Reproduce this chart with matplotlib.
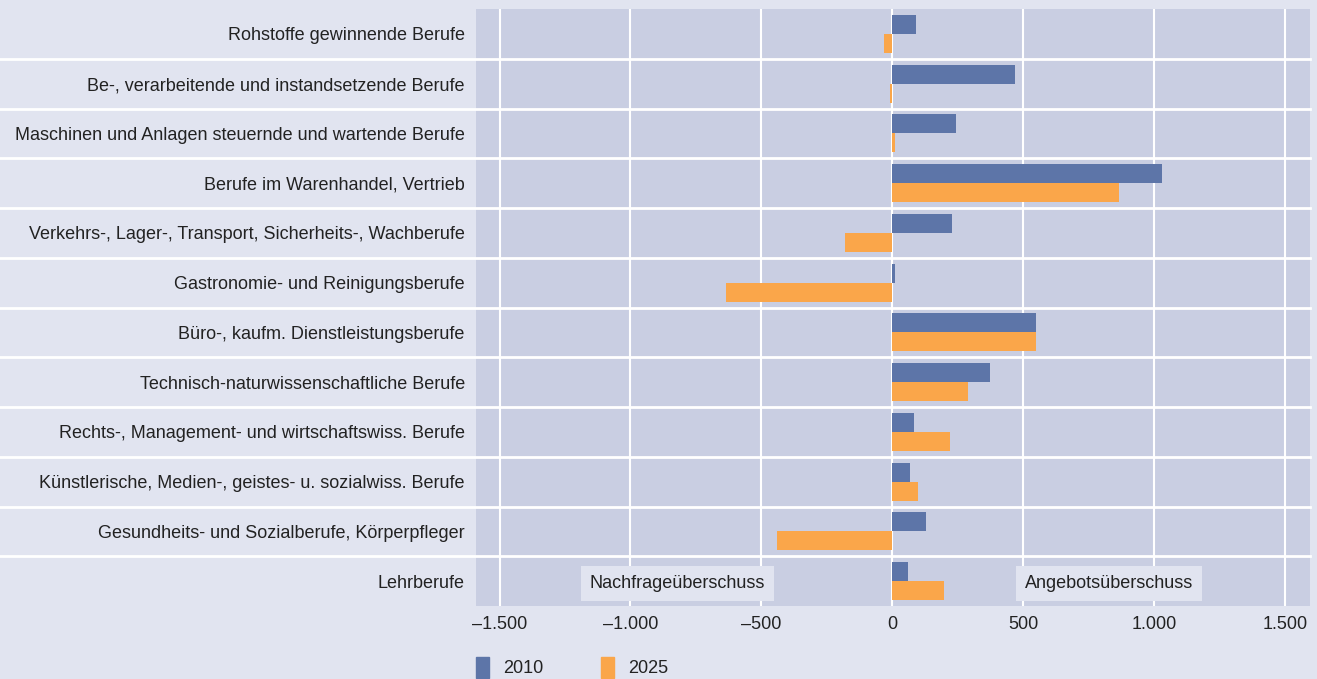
import matplotlib
matplotlib.use("Agg")
import matplotlib.pyplot as plt
from matplotlib.ticker import FuncFormatter
from matplotlib.patches import Patch
import numpy as np

berufe = [
    "Rohstoffe gewinnende Berufe",
    "Be-, verarbeitende und instandsetzende Berufe",
    "Maschinen und Anlagen steuernde und wartende Berufe",
    "Berufe im Warenhandel, Vertrieb",
    "Verkehrs-, Lager-, Transport, Sicherheits-, Wachberufe",
    "Gastronomie- und Reinigungsberufe",
    "Büro-, kaufm. Dienstleistungsberufe",
    "Technisch-naturwissenschaftliche Berufe",
    "Rechts-, Management- und wirtschaftswiss. Berufe",
    "Künstlerische, Medien-, geistes- u. sozialwiss. Berufe",
    "Gesundheits- und Sozialberufe, Körperpfleger",
    "Lehrberufe",
]
werte_2010 = [92, 470, 244, 1030, 229, 12, 550, 374, 84, 69, 130, 61]
werte_2025 = [-30, -10, 10, 866, -180, -637, 550, 290, 221, 99, -439, 198]

plt.rcParams['font.family'] = ['Liberation Sans', 'DejaVu Sans']

bg = "#E1E4F0"
plotbg = "#C9CEE2"
blau = "#5D75A8"
orange = "#FAA64A"
textc = "#222222"
fs = 13

fig = plt.figure(figsize=(13.17, 6.79), dpi=100, facecolor=bg)
ax = fig.add_axes([0.3614, 0.1075, 0.6333, 0.8792])
ax.set_facecolor(plotbg)

y = np.arange(len(berufe))
h = 0.38
ax.barh(y - h / 2, werte_2010, height=h, color=blau, zorder=3)
ax.barh(y + h / 2, werte_2025, height=h, color=orange, zorder=3)

ax.set_ylim(len(berufe) - 0.5, -0.5)
ax.set_xlim(-1590, 1595)
ax.set_yticks(y)
ax.set_yticklabels(berufe, fontsize=fs, color=textc)
ax.tick_params(axis='y', length=0, pad=8)
ax.tick_params(axis='x', length=0, pad=7, labelsize=fs, labelcolor=textc)

xt = [-1500, -1000, -500, 0, 500, 1000, 1500]
ax.set_xticks(xt)
ax.xaxis.set_major_formatter(FuncFormatter(
    lambda v, p: ("–" if v < 0 else "") + f"{abs(int(v)):,}".replace(",", ".")))
for v in xt:
    ax.axvline(v, color="white", lw=1.5, zorder=2)

# row separators, extending into the label area
for b in np.arange(0.5, len(berufe) - 1, 1.0):
    ax.axhline(b, xmin=-0.571, xmax=1.0, color="white", lw=2, zorder=2, clip_on=False)

for s in ax.spines.values():
    s.set_visible(False)

box = dict(boxstyle="square,pad=0.5", fc=bg, ec="none")
ax.text(-820, 11.04, "Nachfrageüberschuss", ha="center", va="center",
        fontsize=fs, color=textc, bbox=box, zorder=4)
ax.text(828, 11.04, "Angebotsüberschuss", ha="center", va="center",
        fontsize=fs, color=textc, bbox=box, zorder=4)

handles = [Patch(color=blau, label="2010"), Patch(color=orange, label="2025")]
fig.legend(handles=handles, loc="lower left", bbox_to_anchor=(0.349, -0.022),
           ncol=2, frameon=False, fontsize=fs, handlelength=0.7, handleheight=1.4,
           columnspacing=3.2, handletextpad=0.8, labelcolor=textc)

fig.savefig("out.png", dpi=100, facecolor=bg)
